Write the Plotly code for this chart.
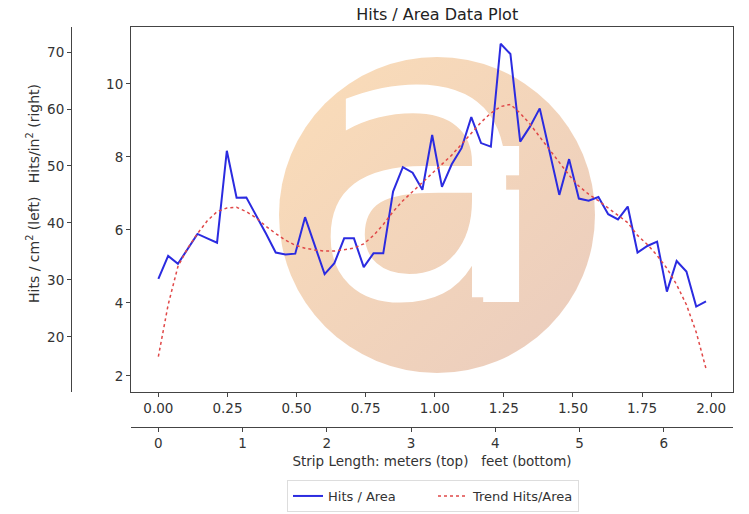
import base64
import plotly.graph_objects as go

# ---------------- data ----------------
strip_m = [0.0, 0.0354, 0.0708, 0.1061, 0.1415, 0.1769, 0.2123, 0.2477, 0.2830, 0.3184,
           0.3538, 0.3892, 0.4246, 0.4599, 0.4953, 0.5307, 0.5661, 0.6015, 0.6368, 0.6722,
           0.7076, 0.7430, 0.7784, 0.8137, 0.8491, 0.8845, 0.9199, 0.9553, 0.9906, 1.0260,
           1.0614, 1.0968, 1.1322, 1.1675, 1.2029, 1.2383, 1.2737, 1.3091, 1.3444, 1.3798,
           1.4152, 1.4506, 1.4860, 1.5213, 1.5567, 1.5921, 1.6275, 1.6629, 1.6982, 1.7336,
           1.7690, 1.8044, 1.8398, 1.8751, 1.9105, 1.9459, 1.9813]

hits_area = [4.66, 5.29, 5.07, 5.48, 5.89, 5.77, 5.65, 8.17, 6.88, 6.89,
             6.41, 5.90, 5.38, 5.33, 5.35, 6.35, 5.57, 4.79, 5.09, 5.77,
             5.77, 4.98, 5.36, 5.36, 7.05, 7.72, 7.57, 7.10, 8.60, 7.18,
             7.80, 8.24, 9.09, 8.38, 8.28, 11.10, 10.82, 8.42, 8.83, 9.33,
             8.15, 6.96, 7.94, 6.86, 6.80, 6.90, 6.43, 6.29, 6.64, 5.38,
             5.56, 5.68, 4.31, 5.15, 4.86, 3.90, 4.04]

trend_area = [2.53, 3.95, 5.00, 5.50, 5.90, 6.25, 6.50, 6.60, 6.62, 6.50,
              6.33, 6.10, 5.90, 5.72, 5.58, 5.50, 5.45, 5.42, 5.42, 5.45,
              5.50, 5.62, 5.85, 6.15, 6.50, 6.80, 7.05, 7.28, 7.55, 7.80,
              8.05, 8.35, 8.65, 8.95, 9.20, 9.38, 9.44, 9.20, 8.90, 8.55,
              8.20, 7.87, 7.50, 7.20, 6.98, 6.80, 6.60, 6.40, 6.20, 5.85,
              5.60, 5.30, 4.95, 4.50, 3.95, 3.20, 2.20]

meter_ticks = [0.0, 0.25, 0.5, 0.75, 1.0, 1.25, 1.5, 1.75, 2.0]
feet_ticks = [0, 1, 2, 3, 4, 5, 6]
in2_ticks = [2, 4, 6, 8, 10]
cm2_ticks = [20, 30, 40, 50, 60, 70]

# ---------------- layout helpers ----------------
W, H = 749, 514
ML, MR, MT, MB = 10, 16, 27, 80
PW = W - ML - MR
PH = H - MT - MB


def px_x(px):
    return (px - ML) / PW


def px_y(py):
    return (H - MB - py) / PH


M_RANGE = [-0.099, 2.079]
FT_PER_M = 1 / 0.3048
FT_RANGE = [M_RANGE[0] * FT_PER_M, M_RANGE[1] * FT_PER_M]

AX = "#444444"
TXT = "#333333"
FONT = "DejaVu Sans"
FS = 13.5

fig = go.Figure()

# watermark letters (drawn first so the data lines sit above them)
fig.add_trace(go.Scatter(x=[0.962], y=[6.76], mode="text", text=["a"], cliponaxis=False,
                         textfont=dict(size=380, color="white", family=FONT),
                         showlegend=False, hoverinfo="skip"))
fig.add_trace(go.Scatter(x=[1.24], y=[5.43], mode="text", text=["i"], cliponaxis=False,
                         textfont=dict(size=205, color="white", family=FONT, weight="bold"),
                         showlegend=False, hoverinfo="skip"))

fig.add_trace(go.Scatter(x=strip_m, y=hits_area, mode="lines", name="Hits / Area",
                         line=dict(color="#2b2be0", width=2)))
fig.add_trace(go.Scatter(x=strip_m, y=trend_area, mode="lines", name="Trend Hits/Area",
                         line=dict(color="#e04848", width=1.5, dash="dot")))

# circle watermark background
svg = ('<svg xmlns="http://www.w3.org/2000/svg" width="316" height="316">'
       '<defs><linearGradient id="g" x1="0" y1="0" x2="1" y2="1">'
       '<stop offset="0" stop-color="#FBDDB8"/><stop offset="1" stop-color="#EACCBE"/>'
       '</linearGradient></defs><circle cx="158" cy="158" r="158" fill="url(#g)"/></svg>')
src = "data:image/svg+xml;base64," + base64.b64encode(svg.encode()).decode()

axis_common = dict(showline=True, linecolor=AX, linewidth=1, ticks="outside",
                   ticklen=4, tickwidth=1, tickcolor=AX, showgrid=False, zeroline=False,
                   tickfont=dict(size=FS, color=TXT, family=FONT))

fig.update_layout(
    width=W, height=H,
    margin=dict(l=ML, r=MR, t=MT, b=MB, autoexpand=False),
    paper_bgcolor="white", plot_bgcolor="rgba(0,0,0,0)",
    font=dict(family=FONT, color=TXT),
    title=dict(text="Hits / Area Data Plot", x=px_x(432), xanchor="center",
               y=1 - 14 / H, yanchor="middle", font=dict(size=16, color="#222")),
    xaxis=dict(domain=[px_x(131), 1], range=M_RANGE, tickvals=meter_ticks,
               ticktext=[f"{v:.2f}" for v in meter_ticks], mirror=True, anchor="y",
               **axis_common),
    xaxis2=dict(domain=[px_x(131), 1], range=FT_RANGE, tickvals=feet_ticks,
                overlaying="x", anchor="free", position=px_y(427), side="bottom",
                title=dict(text="Strip Length: meters (top)   feet (bottom)",
                           font=dict(size=FS, color=TXT), standoff=6),
                **axis_common),
    yaxis=dict(domain=[px_y(392), 1], range=[1.56, 11.56], tickvals=in2_ticks,
               mirror=True, anchor="x", **axis_common),
    yaxis2=dict(domain=[px_y(392), 1], range=[10.3, 74.4], tickvals=cm2_ticks,
                overlaying="y", anchor="free", position=px_x(71), side="left",
                **axis_common),
    legend=dict(orientation="h", x=px_x(433), y=px_y(480), xanchor="center",
                yanchor="top", bordercolor="#dddddd", borderwidth=1,
                font=dict(size=13, color=TXT), itemwidth=30,
                entrywidth=100, entrywidthmode="pixels"),
    images=[dict(source=src, xref="paper", yref="paper", x=px_x(279), y=px_y(57),
                 sizex=316 / PW, sizey=316 / PH, xanchor="left", yanchor="top",
                 sizing="stretch", layer="below", opacity=1)],
    annotations=[dict(text="Hits / cm<sup>2</sup> (left)   Hits/in<sup>2</sup> (right)",
                      textangle=-90, xref="paper", yref="paper", x=px_x(22), y=px_y(194),
                      showarrow=False, font=dict(size=14, color=TXT))],
)

# dummy trace so xaxis2 / yaxis2 are displayed
fig.add_trace(go.Scatter(x=[None], y=[None], xaxis="x2", yaxis="y2", showlegend=False,
                         hoverinfo="skip"))

fig.write_html("out.html")
